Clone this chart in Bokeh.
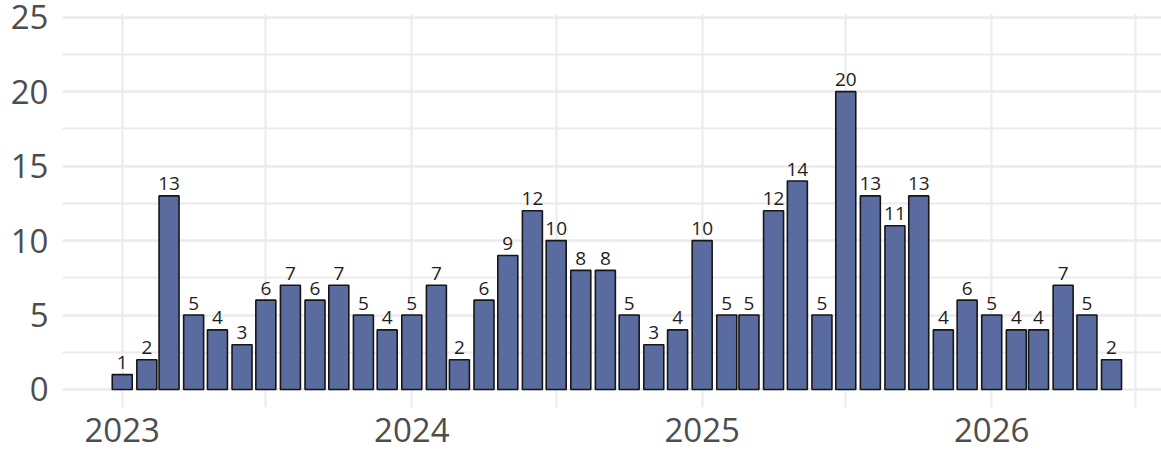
import datetime as dt
from bokeh.plotting import figure
from bokeh.models import (ColumnDataSource, FixedTicker, DatetimeTickFormatter,
                          Range1d, SingleIntervalTicker)
from bokeh.core.properties import value
from bokeh.embed import file_html
from bokeh.resources import INLINE

# ---- data ----
months = ["2023-01", "2023-02", "2023-03", "2023-04", "2023-05", "2023-06",
          "2023-07", "2023-08", "2023-09", "2023-10", "2023-11", "2023-12",
          "2024-01", "2024-02", "2024-03", "2024-04", "2024-05", "2024-06",
          "2024-07", "2024-08", "2024-09", "2024-10", "2024-11", "2024-12",
          "2025-01", "2025-02", "2025-03", "2025-04", "2025-05", "2025-06",
          "2025-07", "2025-08", "2025-09", "2025-10", "2025-11", "2025-12",
          "2026-01", "2026-02", "2026-03", "2026-04", "2026-05", "2026-06"]
counts = [1, 2, 13, 5, 4, 3, 6, 7, 6, 7, 5, 4,
          5, 7, 2, 6, 9, 12, 10, 8, 8, 5, 3, 4,
          10, 5, 5, 12, 14, 5, 20, 13, 11, 13, 4, 6,
          5, 4, 4, 7, 5, 2]
year_ticks = ["2023-01-01", "2024-01-01", "2025-01-01", "2026-01-01"]
half_year_ticks = ["2022-07-01", "2023-07-01", "2024-07-01", "2025-07-01", "2026-07-01"]

EPOCH = dt.datetime(1970, 1, 1)
DAY = 86400000.0


def ms(d):
    return (d - EPOCH).total_seconds() * 1000.0


dates = [dt.datetime.strptime(m, "%Y-%m") for m in months]
src = ColumnDataSource(dict(
    x=[ms(d) for d in dates],
    y=counts,
    label=[str(c) for c in counts],
))

origin = ms(dt.datetime(2023, 1, 1))
p = figure(width=1161, height=451, x_axis_type="datetime",
           output_backend="svg", toolbar_location=None,
           x_range=Range1d(origin - 75.3 * DAY, origin + 1310 * DAY),
           y_range=Range1d(-1.21, 25.25),
           min_border_left=62, min_border_right=0,
           min_border_top=13, min_border_bottom=44)
p.outline_line_color = None
p.background_fill_color = "white"
p.border_fill_color = "white"

p.vbar(x="x", top="y", bottom=0, width=0.9 * 28 * DAY, source=src,
       fill_color="#5a6c9f", line_color="#161616", line_width=1.6)

p.text(x="x", y="y", text="label", source=src, text_align="center",
       text_baseline="alphabetic", y_offset=-12,
       text_font=value("Open Sans"), text_font_size="19px",
       text_color="#1e1e1e")

# axes
p.xaxis.ticker = FixedTicker(
    ticks=[ms(dt.datetime.strptime(t, "%Y-%m-%d")) for t in year_ticks],
    minor_ticks=[ms(dt.datetime.strptime(t, "%Y-%m-%d")) for t in half_year_ticks])
p.xaxis.formatter = DatetimeTickFormatter(years="%Y", months="%Y", days="%Y",
                                          hours="%Y", minutes="%Y", seconds="%Y",
                                          milliseconds="%Y", microseconds="%Y")
p.yaxis.ticker = SingleIntervalTicker(interval=5, num_minor_ticks=2)

for ax in (p.xaxis, p.yaxis):
    ax.axis_line_color = None
    ax.major_tick_line_color = None
    ax.minor_tick_line_color = None
    ax.major_tick_out = 0
    ax.minor_tick_out = 0
    ax.major_tick_in = 0
    ax.minor_tick_in = 0
    ax.major_label_text_font = "Open Sans"
    ax.major_label_text_font_size = "33px"
    ax.major_label_text_color = "#4d4d4d"
p.yaxis.major_label_standoff = 14
p.xaxis.major_label_standoff = 10

for g in (p.xgrid, p.ygrid):
    g.grid_line_color = "#ebebeb"
    g.grid_line_width = 2
    g.minor_grid_line_color = "#ebebeb"
    g.minor_grid_line_width = 2

open("out.html", "w").write(file_html(p, INLINE))
